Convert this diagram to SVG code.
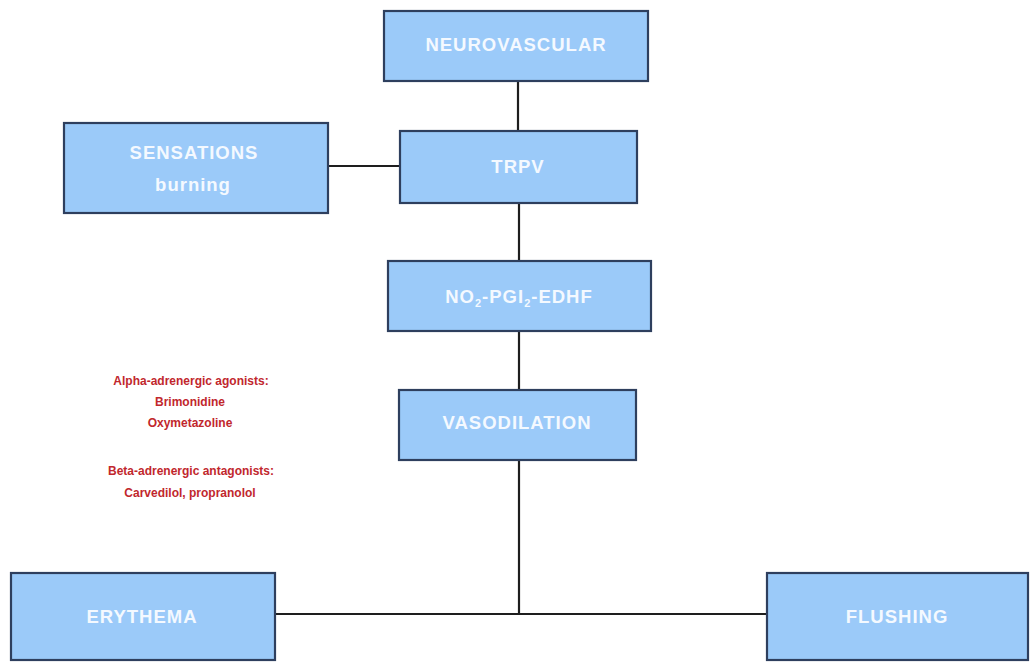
<svg xmlns="http://www.w3.org/2000/svg" width="1030" height="664" viewBox="0 0 1030 664">
  <style>
    .box { fill: #9bcaf9; stroke: #2e3f5e; stroke-width: 2.2; }
    .lbl { font-family: "Liberation Sans", Arial, sans-serif; font-weight: bold; font-size: 18.5px; fill: #f4f9ff; text-anchor: middle; letter-spacing: 1px; }
    .sub { font-size: 11px; }
    .drug { font-family: "Liberation Sans", Arial, sans-serif; font-weight: bold; font-size: 12px; fill: #c1272d; text-anchor: middle; }
    .wire { stroke: #1e1e1e; stroke-width: 2.2; fill: none; }
  </style>
  <rect width="1030" height="664" fill="#ffffff"/>

  <g id="connectors">
    <line class="wire" x1="518" y1="81" x2="518" y2="131"/>
    <line class="wire" x1="328" y1="166" x2="400" y2="166"/>
    <line class="wire" x1="519" y1="203" x2="519" y2="261"/>
    <line class="wire" x1="519" y1="331" x2="519" y2="390"/>
    <line class="wire" x1="519" y1="460" x2="519" y2="614"/>
    <line class="wire" x1="275" y1="614" x2="767" y2="614"/>
  </g>

  <g id="neurovascular">
    <rect class="box" x="384" y="11" width="264" height="70"/>
    <text class="lbl" x="516" y="51">NEUROVASCULAR</text>
  </g>

  <g id="sensations">
    <rect class="box" x="64" y="123" width="264" height="90"/>
    <text class="lbl" x="194" y="159">SENSATIONS</text>
    <text class="lbl" x="193" y="191">burning</text>
  </g>

  <g id="trpv">
    <rect class="box" x="400" y="131" width="237" height="72"/>
    <text class="lbl" x="518" y="173">TRPV</text>
  </g>

  <g id="mediators">
    <rect class="box" x="388" y="261" width="263" height="70"/>
    <text class="lbl" x="519" y="303">NO<tspan class="sub" dy="4">2</tspan><tspan dy="-4">-PGI</tspan><tspan class="sub" dy="4">2</tspan><tspan dy="-4">-EDHF</tspan></text>
  </g>

  <g id="vasodilation">
    <rect class="box" x="399" y="390" width="237" height="70"/>
    <text class="lbl" x="517" y="429">VASODILATION</text>
  </g>

  <g id="erythema">
    <rect class="box" x="11" y="573" width="264" height="87"/>
    <text class="lbl" x="142" y="623">ERYTHEMA</text>
  </g>

  <g id="flushing">
    <rect class="box" x="767" y="573" width="261" height="87"/>
    <text class="lbl" x="897" y="623">FLUSHING</text>
  </g>

  <g id="treatments">
    <text class="drug" x="191" y="385">Alpha-adrenergic agonists:</text>
    <text class="drug" x="190" y="406">Brimonidine</text>
    <text class="drug" x="190" y="427">Oxymetazoline</text>
    <text class="drug" x="191" y="475">Beta-adrenergic antagonists:</text>
    <text class="drug" x="190" y="497">Carvedilol, propranolol</text>
  </g>
</svg>
